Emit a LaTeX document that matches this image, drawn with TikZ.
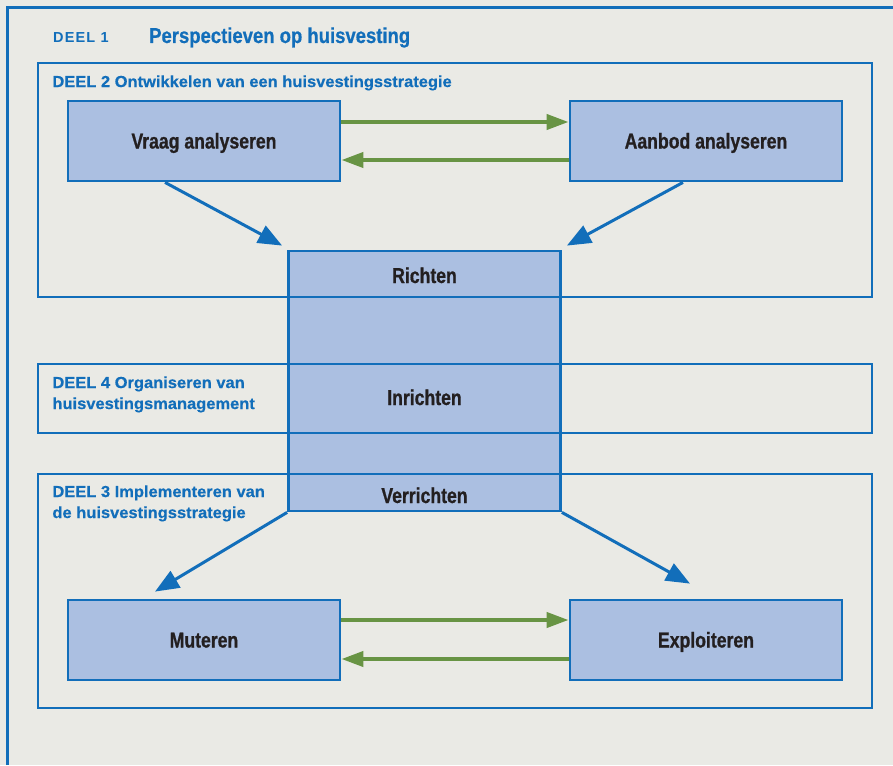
\documentclass[tikz,border=0pt]{standalone}
\usepackage{fontspec}
\setmainfont{Liberation Sans}
\newfontfamily\condfont{Liberation Sans}[FakeStretch=0.82, FakeBold=0.8]
\newfontfamily\titlefont{Liberation Sans}[FakeStretch=0.86, FakeBold=0.6]
\newfontfamily\labelfont{Liberation Sans}[FakeStretch=1.03, FakeBold=0.5]
\newfontfamily\widefont{Liberation Sans}[LetterSpace=8]
\usepackage{tikz}
\usetikzlibrary{arrows.meta, positioning}
\definecolor{mybg}{RGB}{234,234,229}
\definecolor{myblue}{RGB}{18,110,186}
\definecolor{myfill}{RGB}{171,191,225}
\definecolor{mygreen}{RGB}{104,148,68}
\definecolor{mydark}{RGB}{35,31,32}
\tikzset{
  taskbox/.style={rectangle, draw=myblue, fill=myfill, line width=2.8pt,
    minimum width=272pt, minimum height=80pt, inner sep=0pt,
    text height=15pt, text depth=0pt, text=mydark,
    font=\condfont\bfseries\fontsize{21.5}{24}\selectfont},
  corebox/.style={rectangle, draw=myblue, fill=myfill, line width=2.8pt,
    minimum width=272pt, minimum height=260pt, inner sep=0pt},
  coretext/.style={anchor=base, inner sep=0pt, text=mydark,
    font=\condfont\bfseries\fontsize{21.5}{24}\selectfont},
  deelbox/.style={rectangle, draw=myblue, line width=1.5pt,
    minimum width=834pt, inner sep=0pt},
  deeltext/.style={anchor=north west, align=left, inner sep=0pt, text=myblue,
    font=\labelfont\bfseries\fontsize{16}{21}\selectfont},
  bluearrow/.style={-{Triangle[length=24pt,width=19pt]}, line width=3pt, draw=myblue},
  greenarrow/.style={-{Triangle[length=22pt,width=15pt]}, line width=4pt, draw=mygreen}
}
\begin{document}
\begin{tikzpicture}[x=1pt, y=-1pt]
  % Background and frame
  \fill[mybg] (0,0) rectangle (893,765);
  \useasboundingbox (0,0) rectangle (893,765);
  \draw[myblue, line width=3pt] (7,765) -- (7,8) -- (893,8);

  % Title
  \node (deel1) at (53,43) [anchor=base west, inner sep=0pt, text=myblue,
    font=\widefont\bfseries\fontsize{14.5}{16}\selectfont] {DEEL 1};
  \node (titel) at (149,43) [anchor=base west, inner sep=0pt, text=myblue,
    font=\titlefont\bfseries\fontsize{21.5}{24}\selectfont] {Perspectieven op huisvesting};

  % Central column
  \node (kern) at (424.5,381) [corebox] {};
  \node (richten) at (424.5,283) [coretext] {Richten};
  \node (inrichten) at (424.5,405) [coretext] {Inrichten};
  \node (verrichten) at (424.5,503) [coretext] {Verrichten};

  % Parts
  \node (deel2) at (455,180) [deelbox, minimum height=234pt] {};
  \node (deel4) at (455,398.5) [deelbox, minimum height=69pt] {};
  \node (deel3) at (455,591) [deelbox, minimum height=234pt] {};
  \node (deel2txt) at ([shift={(15,13)}]deel2.north west) [deeltext]
    {DEEL 2 Ontwikkelen van een huisvestingsstrategie};
  \node (deel4txt) at ([shift={(15,13)}]deel4.north west) [deeltext]
    {DEEL 4 Organiseren van\\huisvestingsmanagement};
  \node (deel3txt) at ([shift={(15,12)}]deel3.north west) [deeltext]
    {DEEL 3 Implementeren van\\de huisvestingsstrategie};

  % Tasks
  \node (vraag) at (204,141) [taskbox] {Vraag analyseren};
  \node (aanbod) at (706,141) [taskbox] {Aanbod analyseren};
  \node (muteren) at (204,640) [taskbox] {Muteren};
  \node (exploit) at (706,640) [taskbox] {Exploiteren};

  % Exchange arrows
  \draw[greenarrow] ([shift={(0,-19)}]vraag.east) -- ([shift={(0,-19)}]aanbod.west);
  \draw[greenarrow] ([shift={(0,19)}]aanbod.west) -- ([shift={(0,19)}]vraag.east);
  \draw[greenarrow] ([shift={(0,-20)}]muteren.east) -- ([shift={(0,-20)}]exploit.west);
  \draw[greenarrow] ([shift={(0,19)}]exploit.west) -- ([shift={(0,19)}]muteren.east);

  % Flow arrows
  \draw[bluearrow] ([shift={(-39,0)}]vraag.south) -- ([shift={(-5,-4)}]kern.north west);
  \draw[bluearrow] ([shift={(-23,0)}]aanbod.south) -- ([shift={(5,-4)}]kern.north east);
  \draw[bluearrow] (kern.south west) -- ([shift={(-49,-7)}]muteren.north);
  \draw[bluearrow] (kern.south east) -- ([shift={(-16,-15)}]exploit.north);
\end{tikzpicture}
\end{document}
